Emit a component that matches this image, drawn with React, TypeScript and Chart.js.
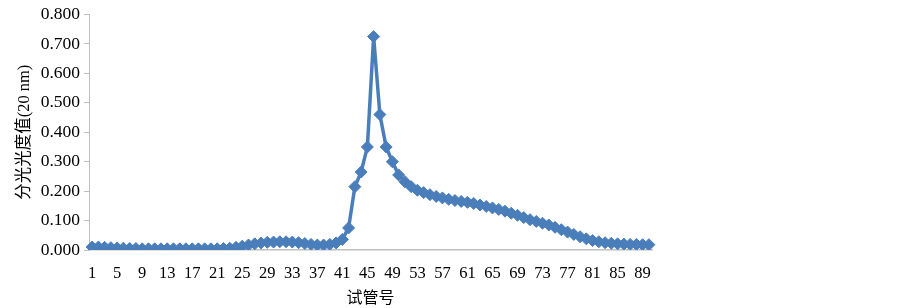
import React, { useEffect, useRef } from "react";
import { Chart, registerables } from "chart.js";

Chart.register(...registerables);

const tubes: string[] = Array.from({ length: 90 }, (_, i) => String(i + 1));

const absorbance: number[] = [
  0.010, 0.010, 0.009, 0.008, 0.007, 0.006, 0.005, 0.005, 0.004, 0.004,
  0.004, 0.004, 0.004, 0.004, 0.004, 0.004, 0.004, 0.004, 0.004, 0.004,
  0.004, 0.005, 0.006, 0.009, 0.013, 0.017, 0.021, 0.024, 0.026, 0.027,
  0.028, 0.028, 0.027, 0.025, 0.022, 0.019, 0.017, 0.017, 0.019, 0.024,
  0.036, 0.075, 0.215, 0.265, 0.350, 0.725, 0.460, 0.350, 0.300, 0.255,
  0.232, 0.215, 0.203, 0.195, 0.188, 0.182, 0.177, 0.172, 0.168, 0.165,
  0.162, 0.158, 0.153, 0.148, 0.143, 0.138, 0.132, 0.125, 0.118, 0.110,
  0.103, 0.097, 0.091, 0.085, 0.077, 0.069, 0.061, 0.053, 0.045, 0.038,
  0.032, 0.028, 0.025, 0.023, 0.021, 0.020, 0.019, 0.019, 0.018, 0.018,
];

const yTitle = "分光光度值(20 nm)";
const xTitle = "试管号";

const FONT = '"Liberation Serif", "Times New Roman", "Noto Sans CJK SC", serif';

export default function App() {
  const ref = useRef<HTMLCanvasElement | null>(null);

  useEffect(() => {
    if (!ref.current) return;
    const chart = new Chart(ref.current, {
      type: "line",
      data: {
        labels: tubes,
        datasets: [
          {
            data: absorbance,
            borderColor: "#4A7EBB",
            backgroundColor: "#4A7EBB",
            borderWidth: 3.5,
            pointStyle: "rectRot",
            pointRadius: 6,
            pointBorderWidth: 1,
            pointBorderColor: "#4A7EBB",
            pointBackgroundColor: "#4A7EBB",
            tension: 0,
          },
        ],
      },
      options: {
        animation: false,
        responsive: false,
        maintainAspectRatio: false,
        layout: { padding: { left: 0, right: 251, top: 12, bottom: 0 } },
        plugins: { legend: { display: false }, tooltip: { enabled: false } },
        scales: {
          x: {
            offset: true,
            grid: { display: false },
            border: { display: true, color: "#BFBFBF", width: 1.5 },
            ticks: {
              autoSkip: false,
              maxRotation: 0,
              minRotation: 0,
              padding: 6,
              color: "#000",
              font: { family: FONT, size: 16.5 },
              callback: (_v: any, i: number) => (i % 4 === 0 ? tubes[i] : ""),
            },
            title: {
              display: true,
              text: xTitle,
              color: "#000",
              font: { family: FONT, size: 16 },
              padding: { top: 0, bottom: 0 },
            },
            afterFit: (s: any) => {
              s.height = 58;
            },
          },
          y: {
            min: 0,
            max: 0.8,
            grid: {
              display: true,
              drawOnChartArea: false,
              drawTicks: true,
              tickLength: 5,
              color: "#BFBFBF",
            },
            border: { display: true, color: "#BFBFBF", width: 1 },
            ticks: {
              stepSize: 0.1,
              padding: 4,
              color: "#000",
              font: { family: FONT, size: 17.5 },
              callback: (v: any) => Number(v).toFixed(3),
            },
            title: {
              display: true,
              text: yTitle,
              color: "#000",
              font: { family: FONT, size: 16.5 },
              padding: { top: 15, bottom: 0 },
            },
            afterFit: (s: any) => {
              s.width = 89;
            },
          },
        },
      },
    });
    return () => chart.destroy();
  }, []);

  return (
    <div style={{ position: "fixed", left: 0, top: 0, width: 903, height: 308, background: "#fff" }}>
      <canvas ref={ref} width={903} height={308} style={{ width: 903, height: 308 }} />
    </div>
  );
}
